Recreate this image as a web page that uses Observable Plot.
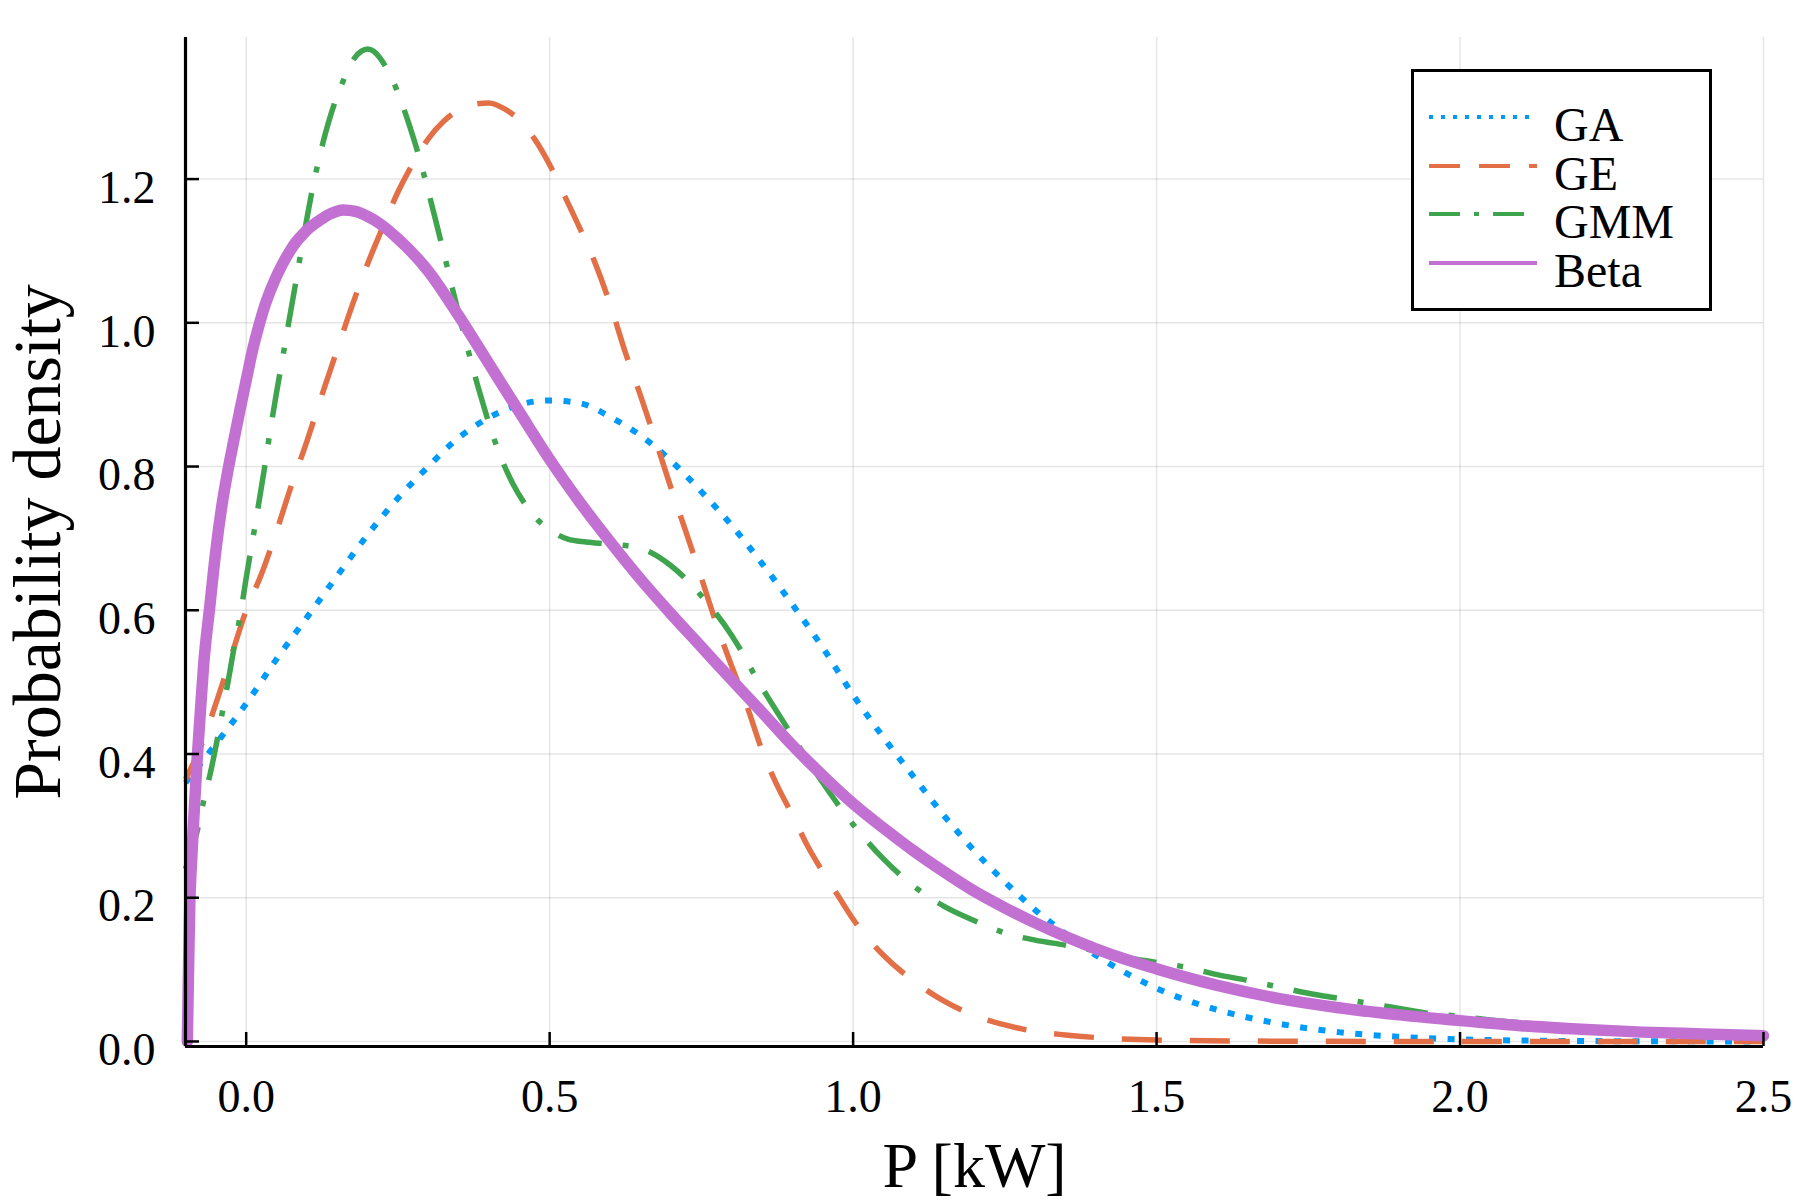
<!DOCTYPE html>
<html><head><meta charset="utf-8">
<script src="https://cdn.jsdelivr.net/npm/d3@7"></script>
<script src="https://cdn.jsdelivr.net/npm/@observablehq/plot@0.6"></script>
<style>
body{margin:0;background:#fff;}
#wrap{position:relative;width:1800px;height:1200px;font-family:"Liberation Serif",serif;}
#legend{position:absolute;left:1411px;top:69px;}
</style></head><body><div id="wrap"></div>
<script>
const xDomain = [-0.1, 2.5];
const yDomain = [-0.007, 1.397];
const xTicks = [0, 0.5, 1.0, 1.5, 2.0, 2.5];
const yTicks = [0, 0.2, 0.4, 0.6, 0.8, 1.0, 1.2];
const xLabel = "P [kW]";
const yLabel = "Probability density";
const seriesNames = ["GA", "GE", "GMM", "Beta"];
const seriesColors = ["#009AFA", "#E36F47", "#3EA44E", "#C271D2"];

const GA_x = [-0.1,-0.05,0,0.05,0.1,0.15,0.2,0.25,0.3,0.35,0.4,0.45,0.5,0.55,0.6,0.65,0.7,0.75,0.8,0.85,0.9,0.95,1.0,1.05,1.1,1.15,1.2,1.25,1.3,1.35,1.4,1.45,1.5,1.6,1.7,1.8,1.9,2.0,2.1,2.2,2.35,2.5];
const GA_y = [0.36,0.414,0.47,0.532,0.59,0.648,0.705,0.756,0.80,0.84,0.868,0.886,0.892,0.888,0.869,0.843,0.808,0.765,0.718,0.665,0.608,0.548,0.482,0.423,0.368,0.314,0.265,0.222,0.183,0.150,0.120,0.095,0.074,0.044,0.025,0.013,0.0065,0.003,0.0013,0.0006,0.0002,0.0];

const GE_x = [-0.1,-0.075,-0.05,-0.025,0,0.025,0.05,0.075,0.1,0.125,0.15,0.175,0.2,0.225,0.25,0.275,0.3,0.325,0.35,0.375,0.4,0.425,0.45,0.475,0.5,0.525,0.55,0.575,0.6,0.625,0.65,0.675,0.7,0.725,0.75,0.775,0.8,0.825,0.85,0.875,0.9,0.925,0.95,0.975,1.0,1.05,1.1,1.15,1.2,1.25,1.3,1.35,1.4,1.5,1.7,2.0,2.5];
const GE_y = [0.365,0.41,0.47,0.535,0.60,0.65,0.71,0.775,0.835,0.90,0.963,1.025,1.082,1.133,1.182,1.222,1.256,1.28,1.296,1.304,1.306,1.298,1.282,1.256,1.22,1.176,1.131,1.083,1.025,0.958,0.898,0.835,0.77,0.708,0.645,0.58,0.522,0.467,0.405,0.356,0.315,0.272,0.236,0.203,0.17,0.12,0.084,0.056,0.036,0.023,0.014,0.009,0.0055,0.002,0.0004,0,0];

const GMM_x = [-0.1,-0.09,-0.08,-0.07,-0.06,-0.05,-0.04,-0.03,-0.02,-0.01,0,0.01,0.02,0.03,0.04,0.05,0.06,0.07,0.08,0.09,0.1,0.11,0.12,0.13,0.14,0.15,0.16,0.17,0.18,0.19,0.2,0.21,0.22,0.23,0.24,0.25,0.26,0.27,0.28,0.29,0.3,0.31,0.32,0.33,0.34,0.35,0.36,0.37,0.38,0.39,0.4,0.42,0.44,0.46,0.48,0.5,0.53,0.56,0.6,0.65,0.7,0.75,0.8,0.85,0.9,0.95,1.0,1.05,1.1,1.15,1.2,1.25,1.3,1.35,1.4,1.45,1.5,1.55,1.6,1.65,1.7,1.75,1.8,1.85,1.9,1.95,2.0,2.05,2.1,2.2,2.3,2.4,2.5];
const GMM_y = [0.24,0.265,0.295,0.335,0.37,0.41,0.455,0.50,0.548,0.592,0.645,0.695,0.745,0.797,0.852,0.903,0.951,1.0,1.048,1.097,1.145,1.19,1.228,1.262,1.291,1.316,1.337,1.356,1.370,1.378,1.381,1.378,1.369,1.356,1.34,1.32,1.297,1.272,1.245,1.215,1.183,1.15,1.116,1.082,1.047,1.013,0.98,0.948,0.917,0.888,0.86,0.812,0.775,0.747,0.726,0.712,0.699,0.695,0.692,0.686,0.662,0.62,0.565,0.492,0.425,0.36,0.302,0.254,0.216,0.188,0.168,0.151,0.141,0.134,0.126,0.117,0.11,0.103,0.093,0.085,0.076,0.067,0.06,0.053,0.046,0.039,0.035,0.03,0.026,0.019,0.013,0.009,0.006];

const Beta_x = [-0.097,-0.096,-0.095,-0.093,-0.09,-0.087,-0.081,-0.075,-0.07,-0.06,-0.05,-0.04,-0.03,-0.02,-0.01,0,0.01,0.02,0.03,0.04,0.05,0.06,0.07,0.08,0.09,0.1,0.12,0.14,0.16,0.18,0.2,0.22,0.25,0.3,0.35,0.4,0.45,0.5,0.55,0.6,0.65,0.7,0.75,0.8,0.85,0.9,0.95,1.0,1.05,1.1,1.15,1.2,1.25,1.3,1.35,1.4,1.45,1.5,1.6,1.7,1.8,1.9,2.0,2.1,2.2,2.3,2.4,2.5];
const Beta_y = [0,0.05,0.1,0.19,0.25,0.3,0.39,0.465,0.525,0.605,0.683,0.746,0.795,0.838,0.88,0.92,0.96,0.993,1.022,1.045,1.065,1.082,1.097,1.11,1.12,1.129,1.142,1.152,1.157,1.155,1.148,1.138,1.117,1.072,1.01,0.943,0.876,0.81,0.75,0.695,0.643,0.595,0.549,0.503,0.458,0.412,0.37,0.331,0.297,0.265,0.236,0.209,0.186,0.165,0.146,0.129,0.114,0.101,0.078,0.06,0.047,0.037,0.029,0.022,0.017,0.013,0.0105,0.008];

const styles = [
  {w: 6, dash: "7 11.5", cap: "butt", lw: 4, ldash: "4 8"},
  {w: 5.5, dash: "40 28", cap: "butt", lw: 4, ldash: "31 19"},
  {w: 5.5, dash: "44 21 6 21", cap: "butt", lw: 4, ldash: "31 14 5 14"},
  {w: 11.5, dash: null, cap: "round", lw: 4, ldash: null}
];
const xs = [GA_x, GE_x, GMM_x, Beta_x];
const ys = [GA_y, GE_y, GMM_y, Beta_y];

const W = 1800, H = 1200, mL = 185, mR = 37, mT = 37, mB = 154;
const fw = W - mL - mR, fh = H - mT - mB;
const font = "'Liberation Serif', 'Times New Roman', serif";

const lineMarks = seriesNames.map((n, i) => Plot.line(xs[i], {
  x: xs[i], y: ys[i], stroke: seriesColors[i], strokeWidth: styles[i].w,
  strokeDasharray: styles[i].dash, strokeLinecap: styles[i].cap, strokeLinejoin: "round",
  curve: "monotone-x"
}));

const chart = Plot.plot({
  width: W, height: H,
  marginLeft: mL, marginRight: mR, marginTop: mT, marginBottom: mB,
  style: {fontFamily: font, background: "white", color: "black"},
  x: {domain: xDomain},
  y: {domain: yDomain},
  marks: [
    Plot.gridX(xTicks, {stroke: "#000", strokeOpacity: 0.1, strokeWidth: 1.5}),
    Plot.gridY(yTicks, {stroke: "#000", strokeOpacity: 0.1, strokeWidth: 1.5}),
    ...lineMarks,
    Plot.ruleX([xDomain[0]], {stroke: "black", strokeWidth: 3.2}),
    Plot.ruleY([yDomain[0]], {stroke: "black", strokeWidth: 3.2}),
    Plot.tickX(xTicks, {x: d => d, insetTop: fh - 14, stroke: "black", strokeWidth: 2.5}),
    Plot.tickY(yTicks, {y: d => d, insetRight: fw - 14, stroke: "black", strokeWidth: 2.5}),
    Plot.axisX(xTicks, {tickSize: 0, tickPadding: 33, fontSize: 46, tickFormat: d3.format(".1f"), label: null, fill: "black"}),
    Plot.axisY(yTicks, {tickSize: 0, tickPadding: 30, fontSize: 46, tickFormat: d3.format(".1f"), label: null, fill: "black", dy: 9}),
    Plot.text([xLabel], {frameAnchor: "bottom", textAnchor: "middle", lineAnchor: "middle", dy: 120, fontSize: 64, fill: "black"}),
    Plot.text([yLabel], {frameAnchor: "left", textAnchor: "middle", lineAnchor: "middle", rotate: -90, dx: -147, fontSize: 68, fill: "black"})
  ]
});

const wrap = document.getElementById("wrap");
wrap.appendChild(chart);

// legend
const lw = 301, lh = 242, rows = [48, 97, 145, 194];
const leg = d3.create("svg").attr("id", "legend").attr("width", lw).attr("height", lh)
  .style("font-family", font);
leg.append("rect").attr("x", 1.5).attr("y", 1.5).attr("width", lw - 3).attr("height", lh - 3)
  .attr("fill", "white").attr("stroke", "black").attr("stroke-width", 3);
seriesNames.forEach((n, i) => {
  leg.append("line").attr("x1", 18).attr("x2", 126).attr("y1", rows[i]).attr("y2", rows[i])
    .attr("stroke", seriesColors[i]).attr("stroke-width", styles[i].lw)
    .attr("stroke-dasharray", styles[i].ldash).attr("stroke-linecap", "butt");
  leg.append("text").attr("x", 143).attr("y", rows[i] + 24).attr("font-size", 48)
    .attr("fill", "black").text(n);
});
wrap.appendChild(leg.node());
</script></body></html>
